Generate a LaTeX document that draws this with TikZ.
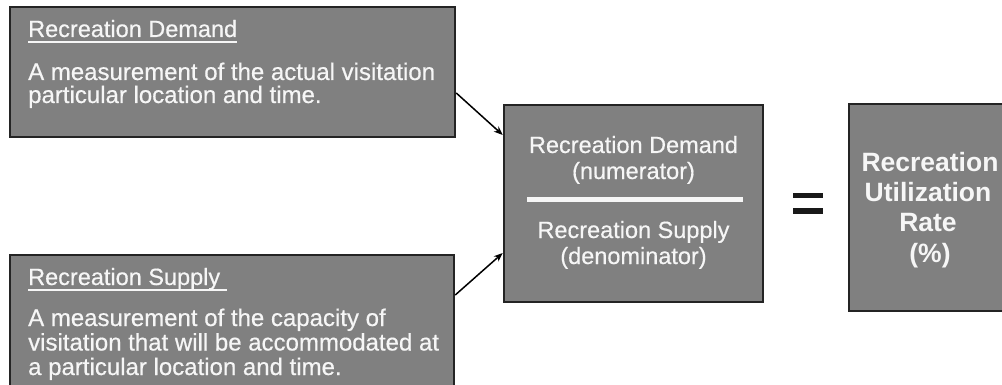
\documentclass[tikz,border=0pt]{standalone}
\usepackage{fontspec}
\setmainfont{Liberation Sans}
\newfontfamily\heavysans{Liberation Sans}[FakeBold=0.5]
\usetikzlibrary{arrows.meta,calc}
\definecolor{boxfill}{RGB}{128,128,128}
\definecolor{boxline}{RGB}{36,36,36}
\definecolor{boxtext}{RGB}{246,246,246}
\begin{document}
\begin{tikzpicture}[x=1pt,y=-1pt,
  panel/.style={rectangle, draw=boxline, line width=2.5pt, fill=boxfill, inner sep=0pt},
  bodytxt/.style={text=boxtext, inner sep=0pt, anchor=base west, font=\heavysans\fontsize{24}{28}\selectfont},
  headtxt/.style={bodytxt, font=\heavysans\fontsize{23.5}{28}\selectfont},
  midtxt/.style={text=boxtext, inner sep=0pt, anchor=base, font=\heavysans\fontsize{23.5}{28}\selectfont},
  bigtxt/.style={text=boxtext, inner sep=0pt, anchor=base, font=\fontsize{26.5}{30}\selectfont\bfseries},
  uline/.style={draw=boxtext, line width=2pt},
  link/.style={draw=black, line width=1.5pt, -{Stealth[length=9pt,width=7pt]}}]
\useasboundingbox (0,0) rectangle (1002,385);
\clip (0,0) rectangle (1002,385);
\fill[white] (0,0) rectangle (1002,385);

% panels
\node[panel, minimum width=445pt, minimum height=130pt] (demBox) at (232.5,72) {};
\node[panel, minimum width=444pt, minimum height=170pt] (supBox) at (232,340) {};
\node[panel, minimum width=259pt, minimum height=197pt] (ratioBox) at (633.5,203.5) {};
\node[panel, minimum width=166pt, minimum height=207pt] (rateBox) at (932,207.5) {};

% demand definition
\node[headtxt] (demHead) at (28,37) {Recreation Demand};
\draw[uline] ($(demHead.base west)+(0,5)$) -- ($(demHead.base east)+(0,5)$);
\node[bodytxt] (demL1) at (28,80) {A measurement of the actual visitation};
\node[bodytxt] (demL2) at (28,103) {particular location and time.};

% supply definition
\node[headtxt] (supHead) at (28,285) {Recreation Supply};
\draw[uline] ($(supHead.base west)+(0,5)$) -- ($(supHead.base east)+(7,5)$);
\node[bodytxt] (supL1) at (28,326) {A measurement of the capacity of};
\node[bodytxt] (supL2) at (28,350.5) {visitation that will be accommodated at};
\node[bodytxt] (supL3) at (28,375) {a particular location and time.};

% ratio
\node[midtxt] (numA) at (633.5,153) {Recreation Demand};
\node[midtxt] (numB) at (633.5,179) {(numerator)};
\draw[draw=boxtext, line width=5pt] (527,200) coordinate (barL) -- (743,200) coordinate (barR);
\node[midtxt] (denA) at (633.5,238) {Recreation Supply};
\node[midtxt] (denB) at (633.5,264) {(denominator)};

% equals sign
\draw[line width=5pt, black!90] (793,196) coordinate (eqA) -- (823,196);
\draw[line width=5pt, black!90] (793,211) coordinate (eqB) -- (823,211);

% result
\node[bigtxt] (rate1) at (930,172) {Recreation};
\node[bigtxt] (rate2) at (928,202) {Utilization};
\node[bigtxt] (rate3) at (928,232) {Rate};
\node[bigtxt] (rate4) at (930,262) {(\%)};

% connectors
\draw[link] (demBox.east |- 0,93) -- (ratioBox.west |- 0,135);
\draw[link] (supBox.east |- 0,295) -- (ratioBox.west |- 0,253);
\end{tikzpicture}
\end{document}
